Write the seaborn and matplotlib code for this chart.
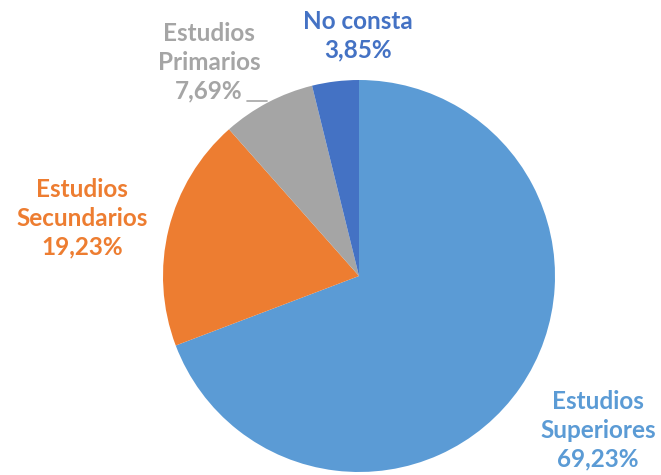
import matplotlib
matplotlib.use("Agg")
import matplotlib.pyplot as plt
import seaborn as sns

# Data
categories = ["Estudios\nSuperiores", "Estudios\nSecundarios", "Estudios\nPrimarios", "No consta"]
percentages = [69.23, 19.23, 7.69, 3.85]
colors = ["#5B9BD5", "#ED7D31", "#A5A5A5", "#4472C4"]

sns.set_theme(style="white")
plt.rcParams['font.family'] = ['Lato', 'DejaVu Sans']

fig = plt.figure(figsize=(6.61, 4.75), dpi=100)
ax = fig.add_axes([0, 0, 1, 1])

# pie in pixel units (y measured from the bottom)
ax.pie(percentages, colors=colors, startangle=90, counterclock=False,
       center=(359, 475 - 276), radius=196, frame=True,
       wedgeprops=dict(linewidth=0))
ax.set_xlim(0, 661)
ax.set_ylim(0, 475)
ax.set_aspect('equal')
ax.axis('off')

# labels: (x, y of block centre in image pixels)
label_pos = [(598, 430), (82, 218), (209, 62), (358, 36)]
for cat, pct, col, (px, py) in zip(categories, percentages, colors, label_pos):
    txt = f"{cat}\n{pct:.2f}%".replace(".", ",")
    ax.text(px, 475 - py, txt, color=col, fontsize=17.5, fontweight='bold',
            ha='center', va='center', linespacing=1.3)

# leader line for Estudios Primarios
ax.plot([247, 267], [475 - 101, 475 - 101], color="#A5A5A5", linewidth=1.2)

fig.savefig("out.png", dpi=100)
